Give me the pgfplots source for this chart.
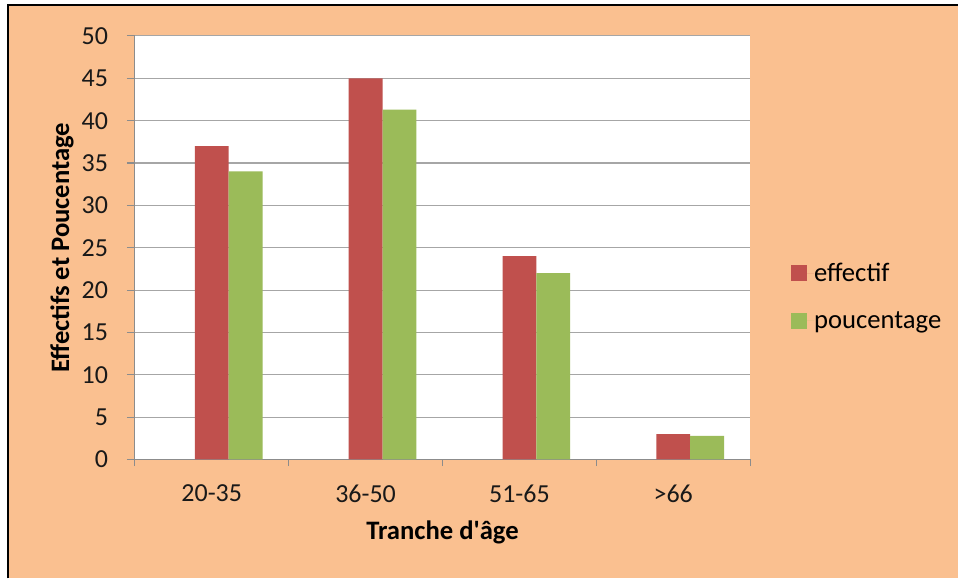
\documentclass[border=0pt]{standalone}
\usepackage{fontspec}
\setmainfont{Carlito}
\usepackage{pgfplots}
\pgfplotsset{compat=1.18}

\definecolor{peach}{HTML}{FAC090}
\definecolor{barred}{HTML}{C0504D}
\definecolor{bargreen}{HTML}{9BBB59}
\definecolor{gridgray}{HTML}{A6A6A6}
\definecolor{axisgray}{HTML}{8C8C8C}

\begin{document}
\begin{tikzpicture}
% background (1px = 0.75pt, axis corner at pixel (135,460))
\fill[white] (-101.25pt,-89.25pt) rectangle (618pt,345pt);
\fill[peach] (-95.25pt,-89.25pt) rectangle (618pt,341.25pt);
\draw[black, line width=1.6pt] (-95.25pt,-89.25pt) -- (-95.25pt,341.25pt) -- (618pt,341.25pt);

\begin{axis}[
    at={(0,0)}, anchor=south west,
    scale only axis,
    width=462pt, height=318pt,
    axis background/.style={fill=white},
    ybar,
    bar width=0.22,
    xmin=-0.5, xmax=3.5,
    ymin=0, ymax=50,
    ytick={0,5,...,50},
    xtick={0,1,2,3},
    xticklabels={20-35,36-50,51-65,>66},
    minor xtick={-0.5,0.5,1.5,2.5,3.5},
    axis x line*=bottom,
    axis y line*=left,
    axis line style={axisgray, line width=0.8pt},
    tick align=outside,
    major tick length=6pt,
    minor tick length=5pt,
    major x tick style={draw=none},
    minor x tick style={axisgray, line width=0.8pt},
    major y tick style={axisgray, line width=0.8pt},
    ymajorgrids,
    grid style={gridgray, line width=0.8pt},
    /pgf/number format/assume math mode=true,
    tick label style={font=\fontsize{19.5}{21}\selectfont, text=black!90},
    yticklabel style={anchor=east, inner sep=0pt, xshift=-14pt},
    xticklabel style={anchor=center, inner sep=0pt, yshift=-19.5pt},
    xlabel={Tranche d\textquotesingle âge},
    ylabel={Effectifs et Poucentage},
    label style={font=\bfseries\fontsize{20}{22}\selectfont},
    xlabel style={at={([yshift=-55pt]rel axis cs:0.5,0)}, anchor=center},
    ylabel style={at={([xshift=-54.75pt]rel axis cs:0,0.5)}, anchor=center},
    legend style={at={(rel axis cs:1.0666,0.385)}, anchor=west, draw=none, fill=none,
        font=\fontsize{20}{22}\selectfont, row sep=17pt, inner sep=0pt,
        nodes={inner xsep=0pt}},
    legend cell align=left,
    legend image code/.code={\fill[#1] (0pt,-6pt) rectangle (12pt,6pt); \path (0pt,0pt) -- (17pt,0pt);},
]
\addplot[fill=barred, draw=none, bar shift=0] coordinates {(0,37) (1,45) (2,24) (3,3)};
\addlegendentry{effectif}
\addplot[fill=bargreen, draw=none, bar shift=0.22] coordinates {(0,34) (1,41.3) (2,22) (3,2.8)};
\addlegendentry{poucentage}
\end{axis}
\end{tikzpicture}
\end{document}
